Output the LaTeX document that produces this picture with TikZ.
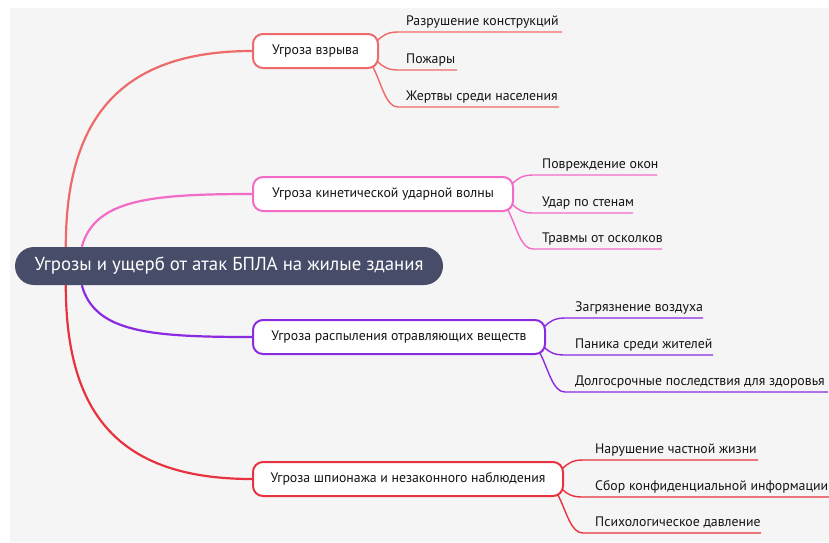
\documentclass[tikz,border=0pt]{standalone}
\usepackage{fontspec}
\setmainfont{PT Sans}
\definecolor{bgc}{HTML}{F5F5F5}
\definecolor{rootc}{HTML}{474C68}
\definecolor{cA}{HTML}{EE6A6A}
\definecolor{cB}{HTML}{F26BC6}
\definecolor{cC}{HTML}{8A2BE2}
\definecolor{cD}{HTML}{E8323F}
\definecolor{txt}{HTML}{141414}
\pgfdeclarelayer{back}
\pgfdeclarelayer{edges}
\pgfsetlayers{back,edges,main}
\tikzset{
  rootbox/.style={fill=rootc, draw=none, rounded corners=19pt, minimum height=38pt, inner sep=0pt, text=white, font=\fontsize{18.8}{22}\selectfont},
  topic/.style={draw=#1, line width=2pt, fill=white, rounded corners=10pt, minimum height=34pt, inner sep=0pt, text=txt, font=\fontsize{13.8}{16}\selectfont},
  leaf/.style={anchor=base west, inner sep=0pt, text=txt, font=\fontsize{13.8}{16}\selectfont},
  mainline/.style={draw=#1, line width=2.2pt},
  subline/.style={draw=#1, line width=1.4pt},
}
\begin{document}
\begin{tikzpicture}[x=1pt,y=-1pt]
\useasboundingbox (0,0) rectangle (829,542);
\begin{pgfonlayer}{back}
\fill[white] (0,0) rectangle (829,542);
\fill[bgc] (10,8) rectangle (829,542);
\end{pgfonlayer}

% root and topics
\node[rootbox, minimum width=428pt] (root) at (229,266) {Угрозы и ущерб от атак БПЛА на жилые здания};
\node[topic=cA, minimum width=125pt] (b1) at (315.5,51) {Угроза взрыва};
\node[topic=cB, minimum width=260pt] (b2) at (383,194) {Угроза кинетической ударной волны};
\node[topic=cC, minimum width=292pt] (b3) at (399,337) {Угроза распыления отравляющих веществ};
\node[topic=cD, minimum width=310pt] (b4) at (408,479) {Угроза шпионажа и незаконного наблюдения};

% leaves group 1
\node[leaf] (l11) at (406,25) {Разрушение конструкций};
\node[leaf] (l12) at (406,63) {Пожары};
\node[leaf] (l13) at (406,100) {Жертвы среди населения};
\coordinate (a11) at (398,32); \coordinate (e11) at (562,32);
\coordinate (a12) at (398,70); \coordinate (e12) at (457,70);
\coordinate (a13) at (398,107); \coordinate (e13) at (559,107);
% leaves group 2
\node[leaf] (l21) at (542,168) {Повреждение окон};
\node[leaf] (l22) at (542,206) {Удар по стенам};
\node[leaf] (l23) at (542,242) {Травмы от осколков};
\coordinate (a21) at (533,175); \coordinate (e21) at (657,175);
\coordinate (a22) at (533,213); \coordinate (e22) at (633,213);
\coordinate (a23) at (533,249); \coordinate (e23) at (662,249);
% leaves group 3
\node[leaf] (l31) at (575,311) {Загрязнение воздуха};
\node[leaf] (l32) at (575,348) {Паника среди жителей};
\node[leaf] (l33) at (575,385) {Долгосрочные последствия для здоровья};
\coordinate (a31) at (565,318); \coordinate (e31) at (703,318);
\coordinate (a32) at (565,355); \coordinate (e32) at (713,355);
\coordinate (a33) at (565,392); \coordinate (e33) at (828,392);
% leaves group 4
\node[leaf] (l41) at (595,453) {Нарушение частной жизни};
\node[leaf] (l42) at (595,490) {Сбор конфиденциальной информации};
\node[leaf] (l43) at (595,526) {Психологическое давление};
\coordinate (a41) at (583,460); \coordinate (e41) at (758,460);
\coordinate (a42) at (583,497); \coordinate (e42) at (829,497);
\coordinate (a43) at (583,533); \coordinate (e43) at (761,533);

\begin{pgfonlayer}{edges}
% main branches
\draw[mainline=cA] ([xshift=51pt]root.north west) .. controls +(0,-127) and +(-133,0) .. (b1.west);
\draw[mainline=cB] ([xshift=67pt]root.north west) .. controls +(13,-47) and +(-103,0) .. (b2.west);
\draw[mainline=cC] ([xshift=67pt]root.south west) .. controls +(13,47) and +(-103,0) .. (b3.west);
\draw[mainline=cD] ([xshift=51pt]root.south west) .. controls +(0,129) and +(-133,0) .. (b4.west);
% sub branches
\foreach \b/\g/\c in {b1/1/cA, b2/2/cB, b3/3/cC, b4/4/cD}{
  \draw[subline=\c] ([shift={(-2,-10)}]\b.east) .. controls +(6,-6) and +(-10,0) .. (a\g1) -- (e\g1);
  \draw[subline=\c] ([shift={(-2,10)}]\b.east) .. controls +(6,6) and +(-10,0) .. (a\g2) -- (e\g2);
  \draw[subline=\c] ([shift={(-6,16)}]\b.east) .. controls +(9,18) and +(-12,0) .. (a\g3) -- (e\g3);
}
\end{pgfonlayer}
\end{tikzpicture}
\end{document}
